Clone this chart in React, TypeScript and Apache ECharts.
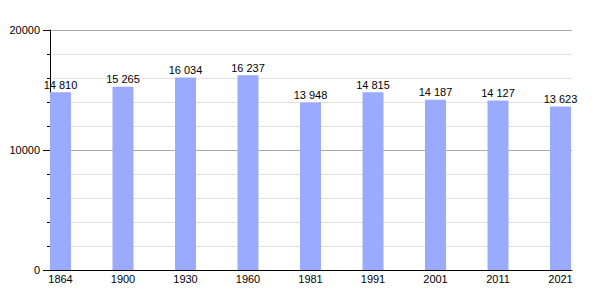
import React, { useEffect, useRef } from "react";
import * as echarts from "echarts";

const years = ["1864", "1900", "1930", "1960", "1981", "1991", "2001", "2011", "2021"];
const population = [14810, 15265, 16034, 16237, 13948, 14815, 14187, 14127, 13623];
const yTickLabels = [0, 10000, 20000];

const fmt = (v: number) => String(v).replace(/\B(?=(\d{3})+(?!\d))/g, " ");

export default function App() {
  const ref = useRef<HTMLDivElement>(null);
  useEffect(() => {
    if (!ref.current) return;
    const chart = echarts.init(ref.current, undefined, { renderer: "svg" });
    const font = "Liberation Sans, Arial, sans-serif";
    chart.setOption({
      animation: false,
      grid: [
        { left: 29.25, width: 562.5, top: 30, height: 240 },
        { left: 50, width: 522, top: 30, height: 240 },
      ],
      xAxis: [
        {
          gridIndex: 0,
          type: "category",
          data: years,
          axisLine: { show: false },
          axisTick: { show: false },
          axisLabel: { color: "#000", fontSize: 11, fontFamily: font, margin: 3 },
          z: 5,
        },
        {
          gridIndex: 1,
          type: "value",
          min: 0,
          max: 1,
          axisLine: { show: true, lineStyle: { color: "#000", width: 1 } },
          axisTick: { show: false },
          axisLabel: { show: false },
          splitLine: { show: false },
          z: 6,
        },
      ],
      yAxis: [
        { gridIndex: 0, type: "value", min: 0, max: 20000, show: false },
        {
          gridIndex: 1,
          type: "value",
          min: 0,
          max: 20000,
          interval: 10000,
          axisLine: { show: true, lineStyle: { color: "#000", width: 1 } },
          axisTick: { show: true, length: 7, lineStyle: { color: "#000" } },
          minorTick: { show: true, splitNumber: 5, length: 3, lineStyle: { color: "#000" } },
          axisLabel: {
            color: "#000",
            fontSize: 11,
            fontFamily: font,
            margin: 10,
            formatter: (v: number) => (yTickLabels.includes(v) ? String(v) : ""),
          },
          splitLine: { show: true, lineStyle: { color: "#aaaaaa", width: 1 } },
          minorSplitLine: { show: true, lineStyle: { color: "#e0e0e0", width: 1 } },
          z: 0,
        },
      ],
      series: [
        {
          type: "bar",
          xAxisIndex: 0,
          yAxisIndex: 0,
          data: population,
          barWidth: 21,
          itemStyle: { color: "#99aaff" },
          z: 3,
          label: {
            show: true,
            position: "top",
            distance: 2,
            color: "#000",
            fontSize: 11,
            fontFamily: font,
            formatter: (p: any) => fmt(p.value),
          },
        },
      ],
    });
    return () => chart.dispose();
  }, []);
  return <div ref={ref} style={{ width: 600, height: 300, position: "absolute", left: 0, top: 0 }} />;
}
